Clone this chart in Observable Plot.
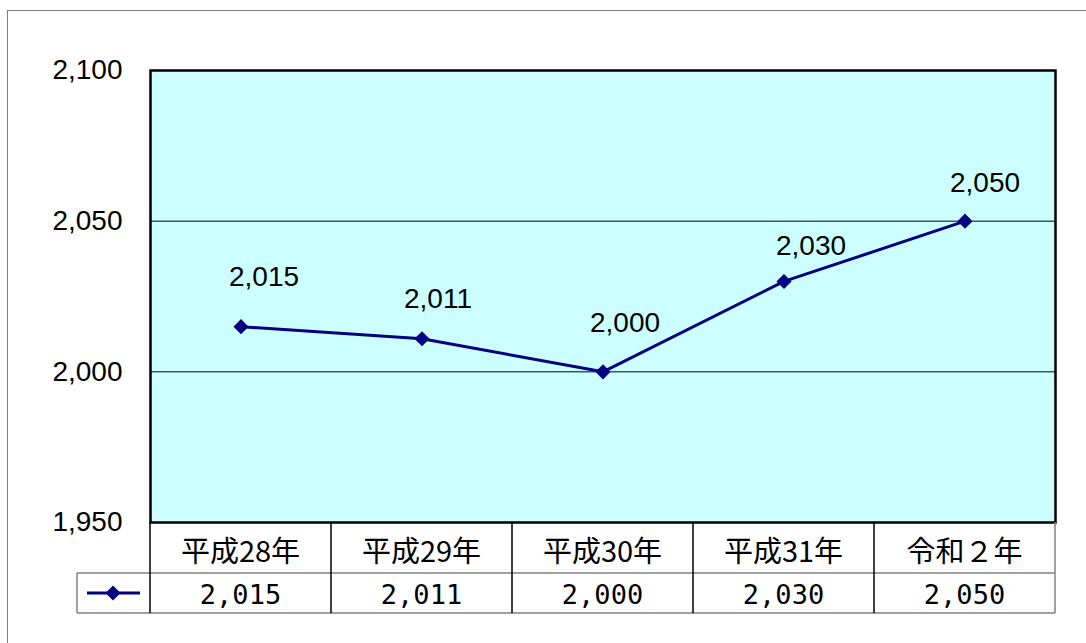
<!DOCTYPE html>
<html><head><meta charset="utf-8">
<script src="https://cdn.jsdelivr.net/npm/d3@7"></script>
<script src="https://cdn.jsdelivr.net/npm/@observablehq/plot@0.6"></script>
<style>
body{margin:0;background:#fff;}
#wrap{position:relative;width:1086px;height:643px;overflow:hidden;}
#border{position:absolute;left:7px;top:10px;width:1200px;height:800px;border:1.5px solid #7f7f7f;pointer-events:none;z-index:2;}
</style>
</head><body><div id="wrap"><div id="border"></div></div>
<script>
const categories = ["平成28年","平成29年","平成30年","平成31年","令和２年"];
const values = [2015, 2011, 2000, 2030, 2050];
const yTicks = [1950, 2000, 2050, 2100];
const gridValues = [2000, 2050];
const yDomain = [1950, 2100];

// label nudges (layout only, px relative to each point)
const labelNudges = [[23, -50], [16, -40], [22, -49], [27, -35], [20, -38]];

const data = categories.map((c, i) => ({cat: c, v: values[i]}));
const fmt = d3.format(",");
const navy = "#000080";
const W = 1086, H = 643, ML = 150, MT = 70, MR = 31, MB = 121;
const numFont = "'Liberation Sans', Arial, sans-serif";

function tableMark(index, scales, vals, dims) {
  const x = scales.x;
  const bw = x.bandwidth ? x.bandwidth() : (dims.width - dims.marginLeft - dims.marginRight) / categories.length;
  const top = dims.height - dims.marginBottom;
  const r1 = top + 51, r2 = r1 + 40;
  const left = dims.marginLeft, right = dims.width - dims.marginRight;
  const g = d3.create("svg:g");
  categories.forEach((c, i) => {
    const cx = x(c) + bw / 2;
    g.append("text").attr("x", cx).attr("y", (top + r1) / 2 + 1)
      .attr("text-anchor", "middle").attr("dominant-baseline", "central")
      .attr("font-family", "'Noto Sans CJK JP', sans-serif").attr("font-size", 29)
      .attr("fill", "#000").text(c);
    g.append("text").attr("x", cx).attr("y", (r1 + r2) / 2 + 1)
      .attr("text-anchor", "middle").attr("dominant-baseline", "central")
      .attr("font-family", "'DejaVu Sans Mono', monospace").attr("font-size", 27)
      .attr("fill", "#000").text(fmt(values[i]));
  });
  const gray = "#808080";
  g.append("line").attr("x1", left - 73).attr("x2", right).attr("y1", r1).attr("y2", r1).attr("stroke", gray).attr("stroke-width", 1.5);
  g.append("line").attr("x1", left - 73).attr("x2", right).attr("y1", r2).attr("y2", r2).attr("stroke", gray).attr("stroke-width", 1.5);
  g.append("line").attr("x1", left - 73).attr("x2", left - 73).attr("y1", r1).attr("y2", r2).attr("stroke", gray).attr("stroke-width", 1.5);
  categories.forEach((c) => {
    const ex = x(c);
    g.append("line").attr("x1", ex).attr("x2", ex).attr("y1", top).attr("y2", r2).attr("stroke", "#000").attr("stroke-width", 1.5);
  });
  g.append("line").attr("x1", right).attr("x2", right).attr("y1", top).attr("y2", r2).attr("stroke", gray).attr("stroke-width", 1.5);
  const ly = (r1 + r2) / 2, lx = left - 37;
  g.append("line").attr("x1", lx - 26).attr("x2", lx + 27).attr("y1", ly).attr("y2", ly).attr("stroke", navy).attr("stroke-width", 3);
  g.append("path").attr("d", `M${lx},${ly - 7.5}L${lx + 7.5},${ly}L${lx},${ly + 7.5}L${lx - 7.5},${ly}Z`).attr("fill", navy);
  return g.node();
}

const chart = Plot.plot({
  width: W, height: H,
  marginLeft: ML, marginTop: MT, marginRight: MR, marginBottom: MB,
  style: {background: "transparent", fontFamily: numFont, color: "#000"},
  x: {type: "band", domain: categories, padding: 0, axis: null},
  y: {domain: yDomain, ticks: yTicks, tickFormat: fmt, axis: null},
  marks: [
    Plot.frame({fill: "#ccffff"}),
    Plot.ruleY(gridValues, {stroke: "#000", strokeWidth: 1}),
    Plot.frame({stroke: "#000", strokeWidth: 2.5}),
    Plot.axisY({ticks: yTicks, tickFormat: fmt, tickSize: 0, tickPadding: 28, label: null, fontSize: 28}),
    Plot.line(data, {x: "cat", y: "v", stroke: navy, strokeWidth: 3}),
    Plot.dot(data, {x: "cat", y: "v", symbol: "diamond2", r: 6.8, fill: navy, stroke: null}),
    ...data.map((d, i) => Plot.text([d], {x: "cat", y: "v", text: e => fmt(e.v), dx: labelNudges[i][0], dy: labelNudges[i][1], fontSize: 28, fill: "#000"})),
    tableMark
  ]
});
document.getElementById("wrap").appendChild(chart);
</script>
</body></html>
